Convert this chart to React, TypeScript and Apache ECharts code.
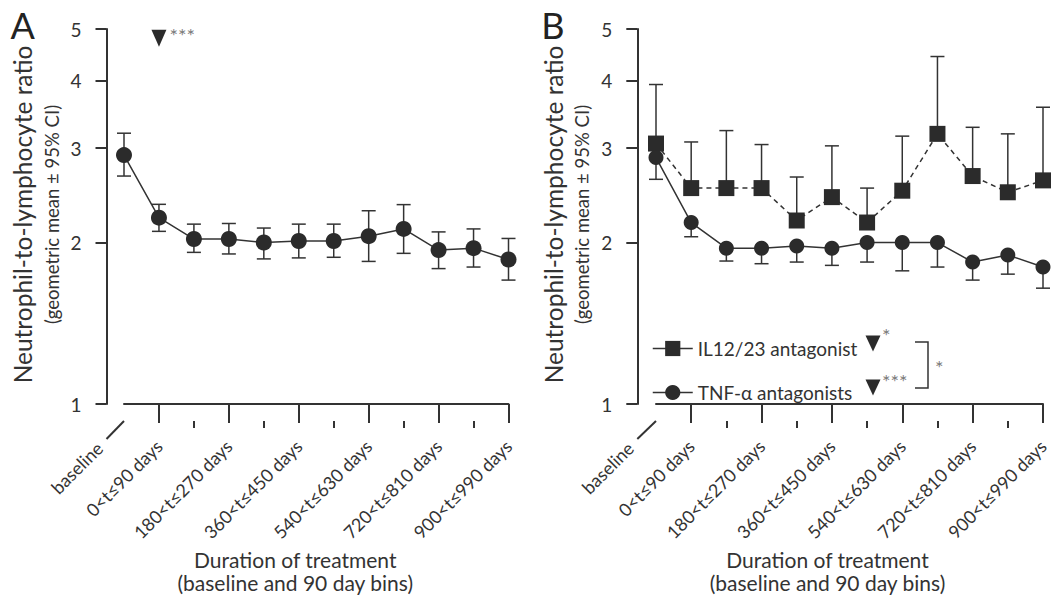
import { useEffect, useRef } from 'react';
import * as echarts from 'echarts';

const CATEGORIES = [
  'baseline', '0<t≤90 days', '90<t≤180 days', '180<t≤270 days', '270<t≤360 days',
  '360<t≤450 days', '450<t≤540 days', '540<t≤630 days', '630<t≤720 days',
  '720<t≤810 days', '810<t≤900 days', '900<t≤990 days',
];
const Y_TICKS = [1, 2, 3, 4, 5];
const Y_TITLE = 'Neutrophil-to-lymphocyte ratio';
const Y_SUBTITLE = '(geometric mean ± 95% CI)';

// Panel A: all patients
const A_MEAN = [2.91, 2.225, 2.03, 2.03, 2.0, 2.013, 2.013, 2.055, 2.12, 1.936, 1.952, 1.859];
const A_LOW = [2.66, 2.098, 1.917, 1.904, 1.864, 1.872, 1.877, 1.844, 1.909, 1.788, 1.8, 1.702];
const A_HIGH = [3.197, 2.356, 2.164, 2.17, 2.128, 2.164, 2.164, 2.292, 2.353, 2.093, 2.12, 2.035];
const A_SIG_CATEGORY = '0<t≤90 days';
const A_SIG_VALUE = 4.806;

// Panel B: by treatment
const IL_NAME = 'IL12/23 antagonist';
const IL_MEAN = [3.058, 2.526, 2.526, 2.526, 2.198, 2.43, 2.179, 2.498, 3.188, 2.66, 2.481, 2.611];
const IL_HIGH = [3.94, 3.079, 3.233, 3.045, 2.649, 3.028, 2.526, 3.157, 4.443, 3.279, 3.188, 3.574];
const TNF_NAME = 'TNF-α antagonists';
const TNF_MEAN = [2.879, 2.179, 1.952, 1.952, 1.971, 1.952, 1.999, 1.999, 1.999, 1.839, 1.896, 1.8];
const TNF_LOW = [2.623, 2.05, 1.847, 1.826, 1.839, 1.813, 1.839, 1.771, 1.8, 1.702, 1.746, 1.644];

const FONT = 'Lato';
const INK = '#333333';
const MARK = '#2b2b2b';
const GREY = '#7a7a7a';

const L = (v: number) => Math.log10(v);

const GRIDS = [
  { left: 124, top: 29, width: 384.5, height: 385 },
  { left: 656, top: 29, width: 387, height: 385 },
];
const Y_OFFSET = [17.5, 18.7];
const X_OFFSET = 17;

function errRender(mode: 'both' | 'up' | 'down') {
  return (params: any, api: any) => {
    const x = api.value(0);
    const lo = api.coord([x, api.value(1)]);
    const hi = api.coord([x, api.value(2)]);
    const hw = 7;
    const style = { stroke: INK, lineWidth: 1.5, fill: null };
    const children: any[] = [
      { type: 'line', shape: { x1: lo[0], y1: lo[1], x2: hi[0], y2: hi[1] }, style },
    ];
    if (mode !== 'up') children.push({ type: 'line', shape: { x1: lo[0] - hw, y1: lo[1], x2: lo[0] + hw, y2: lo[1] }, style });
    if (mode !== 'down') children.push({ type: 'line', shape: { x1: hi[0] - hw, y1: hi[1], x2: hi[0] + hw, y2: hi[1] }, style });
    return { type: 'group', children };
  };
}

function yAxisFor(gridIndex: number) {
  return {
    type: 'value',
    gridIndex,
    min: 0,
    max: L(5),
    offset: Y_OFFSET[gridIndex],
    axisLine: { show: true, lineStyle: { color: INK, width: 2 } },
    axisTick: { show: true, length: 11, customValues: Y_TICKS.map(L), lineStyle: { color: INK, width: 2 } },
    axisLabel: {
      customValues: Y_TICKS.map(L),
      formatter: (v: number) => String(Math.round(Math.pow(10, v))),
      margin: 25, fontSize: 19, color: INK, fontFamily: FONT,
    },
    splitLine: { show: false },
  };
}

function xAxesFor(gridIndex: number, shift: number) {
  return [
    {
      type: 'category', gridIndex, data: CATEGORIES, boundaryGap: false,
      position: 'bottom', offset: X_OFFSET,
      axisLine: { show: true, lineStyle: { color: INK, width: 2 } },
      axisTick: { show: true, length: 19, interval: (i: number) => i % 2 === 1, lineStyle: { color: INK, width: 2 } },
      axisLabel: {
        interval: (i: number) => i % 2 === 1, rotate: 45, margin: 22,
        fontSize: 18, color: INK, fontFamily: FONT,
      },
      splitLine: { show: false },
      name: '{t|Duration of treatment}\n{t|(baseline and 90 day bins)}',
      nameLocation: 'middle',
      nameGap: 127,
      nameTextStyle: {
        align: 'center',
        padding: [0, shift, 0, 0],
        rich: { t: { fontSize: 21, fontFamily: FONT, color: INK, lineHeight: 23, align: 'center' } },
      },
    },
    {
      type: 'category', gridIndex, data: CATEGORIES, boundaryGap: false,
      position: 'bottom', offset: X_OFFSET,
      axisLine: { show: false },
      axisTick: { show: true, length: 7, interval: (i: number) => i >= 2 && i % 2 === 0, lineStyle: { color: INK, width: 2 } },
      axisLabel: { show: false },
      splitLine: { show: false },
    },
  ];
}

export default function App() {
  const ref = useRef<HTMLDivElement>(null);
  useEffect(() => {
    if (!ref.current) return;
    const chart = echarts.init(ref.current, null, { renderer: 'svg' });
    const idx = CATEGORIES.map((_, i) => i);
    const option: any = {
      animation: false,
      backgroundColor: '#ffffff',
      textStyle: { fontFamily: FONT },
      grid: GRIDS.map((g) => ({ ...g, containLabel: false })),
      xAxis: [...xAxesFor(0, 42), ...xAxesFor(1, 44)],
      yAxis: [yAxisFor(0), yAxisFor(1)],
      legend: {
        orient: 'vertical', left: 647, top: 334,
        itemWidth: 40, itemHeight: 19, itemGap: 25,
        data: [IL_NAME, TNF_NAME],
        textStyle: { fontSize: 19, color: INK, fontFamily: FONT },
        lineStyle: { type: 'solid', width: 1.5, color: INK },
        selectedMode: false,
      },
      series: [
        {
          type: 'custom', name: 'A-ci', xAxisIndex: 0, yAxisIndex: 0, z: 2, clip: false,
          renderItem: errRender('both'), encode: { x: 0, y: [1, 2] },
          data: idx.map((i) => [i, L(A_LOW[i]), L(A_HIGH[i])]),
        },
        {
          type: 'line', name: 'All', xAxisIndex: 0, yAxisIndex: 0, z: 3,
          data: A_MEAN.map(L), symbol: 'circle', symbolSize: 16,
          itemStyle: { color: MARK }, lineStyle: { color: INK, width: 1.5 },
        },
        {
          type: 'scatter', name: 'sigA', xAxisIndex: 0, yAxisIndex: 0, z: 3,
          data: [[A_SIG_CATEGORY, L(A_SIG_VALUE)]],
          symbol: 'path://M0,0L20,0L10,22Z', symbolSize: [15, 17],
          itemStyle: { color: MARK, opacity: 1 },
          label: { show: true, formatter: '***', position: [18, -5], fontSize: 20, color: GREY, fontFamily: FONT },
        },
        {
          type: 'custom', name: 'IL-ci', xAxisIndex: 2, yAxisIndex: 1, z: 2, clip: false,
          renderItem: errRender('up'), encode: { x: 0, y: [1, 2] },
          data: idx.map((i) => [i, L(IL_MEAN[i]), L(IL_HIGH[i])]),
        },
        {
          type: 'custom', name: 'TNF-ci', xAxisIndex: 2, yAxisIndex: 1, z: 2, clip: false,
          renderItem: errRender('down'), encode: { x: 0, y: [1, 2] },
          data: idx.map((i) => [i, L(TNF_LOW[i]), L(TNF_MEAN[i])]),
        },
        {
          type: 'line', name: IL_NAME, xAxisIndex: 2, yAxisIndex: 1, z: 3,
          data: IL_MEAN.map(L), symbol: 'rect', symbolSize: 16,
          itemStyle: { color: MARK }, lineStyle: { color: INK, width: 1.5, type: [5, 4] },
        },
        {
          type: 'line', name: TNF_NAME, xAxisIndex: 2, yAxisIndex: 1, z: 4,
          data: TNF_MEAN.map(L), symbol: 'circle', symbolSize: 15,
          itemStyle: { color: MARK }, lineStyle: { color: INK, width: 1.5 },
        },
      ],
    };
    chart.setOption(option);

    // decorations derived from the axes' own scales
    const graphics: any[] = [];
    const letters = ['A', 'B'];
    [[0, 0], [2, 1]].forEach(([xi, yi], p) => {
      const x0 = chart.convertToPixel({ xAxisIndex: xi }, CATEGORIES[0]) as number;
      const yBottom = chart.convertToPixel({ yAxisIndex: yi }, 0) as number;
      const yTop = chart.convertToPixel({ yAxisIndex: yi }, L(5)) as number;
      const yLineX = x0 - Y_OFFSET[p];
      const axisY = yBottom + X_OFFSET;
      const yMid = (yBottom + yTop) / 2;
      graphics.push({
        type: 'line', shape: { x1: yLineX, y1: axisY + 18, x2: x0, y2: axisY },
        style: { stroke: INK, lineWidth: 2 },
      });
      graphics.push({
        type: 'text', x: yLineX - 7, y: axisY + 24, rotation: Math.PI / 4,
        style: { text: CATEGORIES[0], fontSize: 18, fontFamily: FONT, fill: INK, align: 'right', verticalAlign: 'middle' },
      });
      graphics.push({
        type: 'text', x: yLineX - 96, y: yTop - 22,
        style: { text: letters[p], fontSize: 36, fontFamily: FONT, fill: '#222', align: 'left', verticalAlign: 'top' },
      });
      graphics.push({
        type: 'text', x: yLineX - 84, y: yMid - 2, rotation: Math.PI / 2,
        style: { text: Y_TITLE, fontSize: 24.5, fontFamily: FONT, fill: INK, align: 'center', verticalAlign: 'middle' },
      });
      graphics.push({
        type: 'text', x: yLineX - 55, y: yMid - 2, rotation: Math.PI / 2,
        style: { text: Y_SUBTITLE, fontSize: 18.5, fontFamily: FONT, fill: INK, align: 'center', verticalAlign: 'middle' },
      });
    });
    // legend significance annotations (panel B)
    const tri = (cx: number, cy: number) => ({
      type: 'polygon',
      shape: { points: [[cx - 7.5, cy - 7.5], [cx + 7.5, cy - 7.5], [cx, cy + 8.5]] },
      style: { fill: MARK },
    });
    graphics.push(tri(873, 343));
    graphics.push(tri(873, 387));
    graphics.push({ type: 'text', x: 882, y: 325, style: { text: '*', fontSize: 20, fontFamily: FONT, fill: GREY } });
    graphics.push({ type: 'text', x: 882, y: 371, style: { text: '***', fontSize: 20, fontFamily: FONT, fill: GREY } });
    graphics.push({
      type: 'polyline', shape: { points: [[915, 342], [928, 342], [928, 388], [915, 388]] },
      style: { stroke: INK, lineWidth: 1.5, fill: null },
    });
    graphics.push({ type: 'text', x: 935, y: 357, style: { text: '*', fontSize: 20, fontFamily: FONT, fill: GREY } });
    chart.setOption({ graphic: graphics });

    return () => chart.dispose();
  }, []);
  return <div ref={ref} style={{ position: 'fixed', left: 0, top: 0, width: 1064, height: 598 }} />;
}
